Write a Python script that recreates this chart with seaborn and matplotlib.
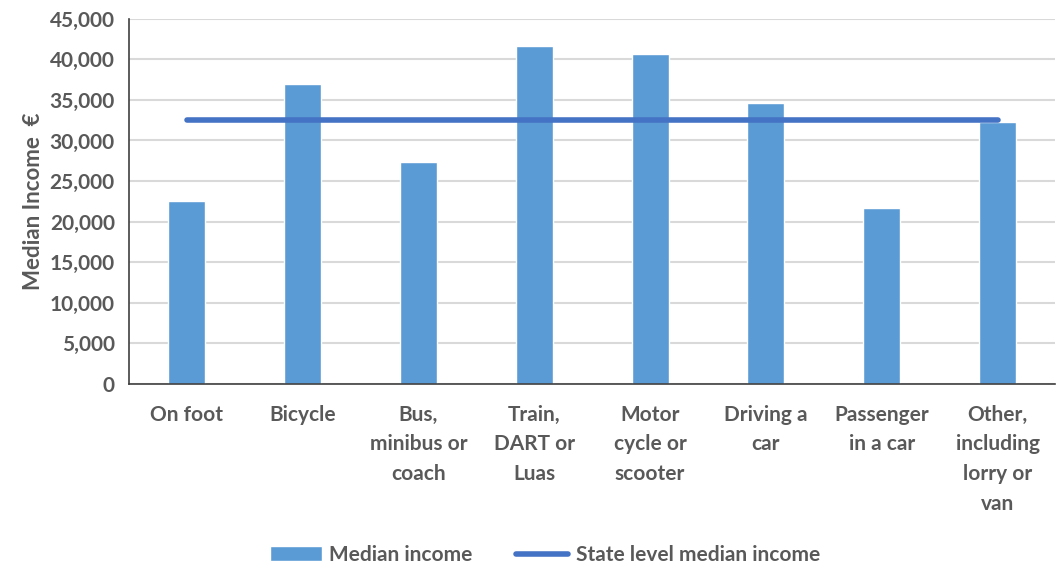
import matplotlib
matplotlib.use("Agg")
import pandas as pd
import matplotlib.pyplot as plt
import seaborn as sns
from matplotlib.ticker import FuncFormatter
from matplotlib.patches import Patch
from matplotlib.lines import Line2D

# data
modes = ["On foot", "Bicycle", "Bus,\nminibus or\ncoach", "Train,\nDART or\nLuas",
         "Motor\ncycle or\nscooter", "Driving a\ncar", "Passenger\nin a car",
         "Other,\nincluding\nlorry or\nvan"]
median_income = [22600, 37000, 27300, 41700, 40600, 34600, 21700, 32300]
state_median = 32500

df = pd.DataFrame({"mode": modes, "income": median_income})

sns.set_style("white")
plt.rcParams["font.family"] = ["Lato", "DejaVu Sans"]
plt.rcParams["font.weight"] = "bold"

txt = "#595959"
bar_col = "#5B9BD5"
line_col = "#4472C4"

fig = plt.figure(figsize=(10.64, 5.68), dpi=100)
ax = fig.add_axes([0.121, 0.324, 0.871, 0.643])

sns.barplot(data=df, x="mode", y="income", color=bar_col, width=0.32,
            saturation=1, ax=ax, zorder=2)
ax.plot(range(len(modes)), [state_median] * len(modes), color=line_col,
        lw=4, solid_capstyle="round", zorder=3)

ax.set_ylim(0, 45000)
ax.set_yticks(range(0, 45001, 5000))
ax.yaxis.set_major_formatter(FuncFormatter(lambda v, p: f"{int(v):,}"))
ax.set_xlim(-0.5, len(modes) - 0.5)
ax.grid(axis="y", color="#D9D9D9", lw=1.5, zorder=0)
ax.set_axisbelow(True)

for s in ["top", "right"]:
    ax.spines[s].set_visible(False)
for s in ["left", "bottom"]:
    ax.spines[s].set_color("#404040")
    ax.spines[s].set_linewidth(1.2)

ax.tick_params(axis="both", length=0, colors=txt, labelsize=15)
ax.tick_params(axis="x", pad=15)
ax.tick_params(axis="y", pad=10)
ax.set_xticks(range(len(modes)), labels=modes, linespacing=1.6,
              fontweight="bold", va="top")
for lab in ax.get_yticklabels():
    lab.set_fontweight("bold")

ax.set_xlabel("")
ax.set_ylabel("Median Income  \u20ac", fontsize=16, fontweight="bold", color=txt, labelpad=4)

handles = [Patch(facecolor=bar_col, label="Median income"),
           Line2D([0], [0], color=line_col, lw=4, label="State level median income")]
leg = fig.legend(handles=handles, loc="center", bbox_to_anchor=(0.512, 0.023), ncol=2,
                 frameon=False, fontsize=15, handlelength=2.5, columnspacing=2.1,
                 handletextpad=0.35)
for t in leg.get_texts():
    t.set_color(txt)
    t.set_fontweight("bold")

plt.savefig("out.png", dpi=100)
